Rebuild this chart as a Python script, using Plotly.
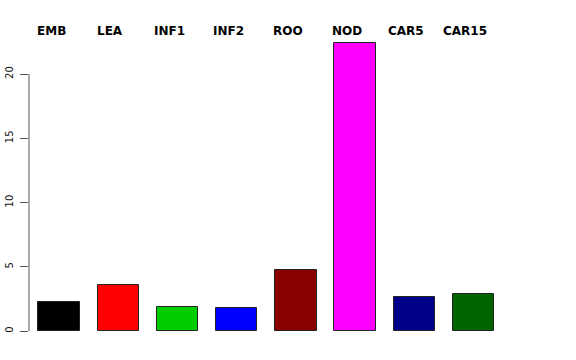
import plotly.graph_objects as go

categories = ["EMB", "LEA", "INF1", "INF2", "ROO", "NOD", "CAR5", "CAR15"]
values = [2.23, 3.6, 1.89, 1.77, 4.75, 22.4, 2.65, 2.86]
colors = ["#000000", "#FF0000", "#00CD00", "#0000FF", "#8B0000", "#FF00FF", "#00008B", "#006400"]
yticks = [0, 5, 10, 15, 20]

idx = list(range(len(categories)))

fig = go.Figure()
fig.add_trace(go.Bar(
    x=idx, y=values, width=0.70,
    marker=dict(color=colors, line=dict(color="#222222", width=1)),
    hoverinfo="skip",
))

# category labels along the top (R-style text at top)
for i, c in enumerate(categories):
    cx = i - 0.135
    fig.add_annotation(x=cx, y=1.0, xref="x", yref="paper", yanchor="bottom",
                       yshift=-8, text="<b>%s</b>" % c, showarrow=False,
                       font=dict(family="DejaVu Sans", size=12, color="black"))

# y axis line only spanning tick range (R style)
fig.add_shape(type="line", xref="paper", yref="y", x0=0, x1=0,
              y0=yticks[0], y1=yticks[-1], line=dict(color="#555555", width=1))

fig.update_layout(
    width=576, height=360,
    margin=dict(l=29, r=30, t=32, b=17),
    plot_bgcolor="white", paper_bgcolor="white",
    showlegend=False,
    bargap=0,
    xaxis=dict(range=[-0.507, 8.226], showgrid=False, zeroline=False,
               showline=False, showticklabels=False, ticks="", automargin=False),
    yaxis=dict(range=[-0.934, 23.27], tickvals=yticks,
               ticktext=[str(v) for v in yticks],
               showgrid=False, zeroline=False, showline=False, automargin=False,
               ticks="outside", ticklen=8, tickcolor="#555555", tickwidth=1,
               tickangle=-90, ticklabelstandoff=3,
               tickfont=dict(family="DejaVu Sans", size=10, color="#111111")),
)

fig.write_html("out.html")
